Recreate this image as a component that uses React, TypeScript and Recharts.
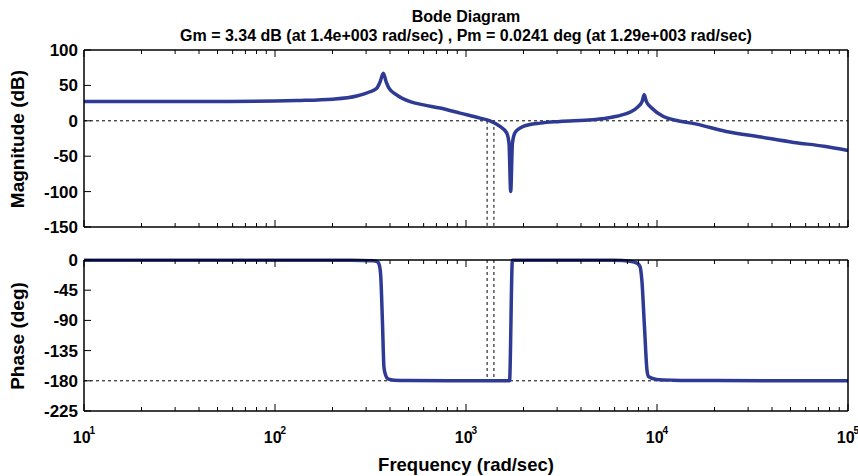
import React from 'react';
import {
  LineChart,
  Line,
  XAxis,
  YAxis,
  ReferenceLine,
} from 'recharts';

const FONT = "'Liberation Sans', Arial, Helvetica, sans-serif";
const BLUE = '#2e3a94';
const W = 858;

// frequency (rad/sec) -> magnitude (dB)
const magFreq = [
  10, 20, 58, 130, 200, 268, 314, 341, 355, 369, 382, 395, 433, 510, 600, 731,
  931, 1184, 1336, 1507, 1633, 1680, 1714, 1750, 1803, 1900, 1996, 2450, 3100,
  4600, 5500, 6500, 7230, 7970, 8350, 8570, 8800, 9380, 10800, 12700, 16100,
  23000, 35000, 52000, 75000, 100000,
];
const magDb = [
  27.3, 27.3, 27.3, 28.7, 30.6, 35, 41, 46, 55, 67, 55, 46, 36.7, 27, 22.5, 18,
  10.8, 3.8, 0, -8, -17, -32, -100, -32, -17, -11, -8, -3.3, -1,
  1.5, 4, 8, 12.2, 20, 27, 36.7, 27, 18, 6, 0.5, -4.7,
  -15, -23, -30.5, -36, -42,
];

// frequency (rad/sec) -> phase (deg)
const phaseFreq = [
  10, 100, 250, 327, 345, 352, 358, 365, 372, 380, 390, 420, 500, 1000, 1690,
  1750, 3000, 6000, 7230, 7900, 8150, 8330, 8600, 8870, 9050, 9960, 12000,
  20000, 100000,
];
const phaseDeg = [
  -0.3, -0.3, -0.5, -1, -3, -8, -25, -90, -160, -172, -177, -179, -179.5, -180, -180,
  -0.3, -0.3, -0.5, -2, -5, -10, -30, -100, -165, -174, -178, -179,
  -179.7, -180,
];

const magTicks = [-150, -100, -50, 0, 50, 100];
const phaseTicks = [-225, -180, -135, -90, -45, 0];
const decades = [10, 100, 1000, 10000, 100000];

const GM_FREQ = 1400;
const PM_FREQ = 1290;

// log ticks: decades plus 2..9 in between
const freqTicks: number[] = [];
decades.forEach((d, i) => {
  if (i === decades.length - 1) { freqTicks.push(d); return; }
  for (let k = 1; k <= 9; k++) freqTicks.push(d * k);
});

const isDecade = (v: number) => Math.abs(Math.log10(v) - Math.round(Math.log10(v))) < 1e-6;

// eslint-disable-next-line @typescript-eslint/no-explicit-any
function BottomTick({ x, y, payload, showLabel }: any) {
  const v = payload.value;
  const major = isDecade(v);
  return (
    <g>
      <line x1={x} x2={x} y1={y} y2={y - (major ? 7 : 4)} stroke="#000" strokeWidth={1} />
      {showLabel && major && (
        <text x={x} y={y + 32} textAnchor="middle" fontFamily={FONT} fontWeight="bold" fontSize={16} fill="#000">
          10<tspan dx={-1} dy={-9} fontSize={10}>{Math.round(Math.log10(v))}</tspan>
        </text>
      )}
    </g>
  );
}

// eslint-disable-next-line @typescript-eslint/no-explicit-any
function TopTick({ x, y, payload }: any) {
  const major = isDecade(payload.value);
  return <line x1={x} x2={x} y1={y} y2={y + (major ? 7 : 4)} stroke="#000" strokeWidth={1} />;
}

// eslint-disable-next-line @typescript-eslint/no-explicit-any
function LeftTick({ x, y, payload }: any) {
  return (
    <g>
      <line x1={x} x2={x + 7} y1={y} y2={y} stroke="#000" strokeWidth={1} />
      <text x={x - 6} y={y + 6} textAnchor="end" fontFamily={FONT} fontWeight="bold" fontSize={17} fill="#000">
        {payload.value}
      </text>
    </g>
  );
}

// eslint-disable-next-line @typescript-eslint/no-explicit-any
function RightTick({ x, y }: any) {
  return <line x1={x} x2={x - 7} y1={y} y2={y} stroke="#000" strokeWidth={1} />;
}

const axisLine = { stroke: '#000', strokeWidth: 1.5 };
const dash = { stroke: '#000', strokeWidth: 1, strokeDasharray: '3 3' };

function Panel({ data, height, margin, bottomHeight, domain, ticks, refY, showLabel }: any) {
  return (
    <LineChart width={W} height={height} data={data} margin={margin}>
      <XAxis
        dataKey="w" type="number" scale="log" domain={[10, 100000]}
        ticks={freqTicks} interval={0} tickSize={0} tickMargin={0}
        tick={<BottomTick showLabel={showLabel} />} tickLine={false}
        axisLine={axisLine} height={bottomHeight}
      />
      <XAxis
        xAxisId="t" orientation="top" dataKey="w" type="number" scale="log" domain={[10, 100000]}
        ticks={freqTicks} interval={0} tickSize={0} tickMargin={0}
        tick={<TopTick />} tickLine={false} axisLine={axisLine} height={10}
      />
      <YAxis
        type="number" domain={domain} ticks={ticks} interval={0} tickSize={0} tickMargin={0}
        tick={<LeftTick />} tickLine={false} axisLine={axisLine} width={84}
      />
      <YAxis
        yAxisId="r" orientation="right" type="number" domain={domain} ticks={ticks} interval={0}
        tickSize={0} tickMargin={0} tick={<RightTick />} tickLine={false} axisLine={axisLine} width={10}
      />
      <ReferenceLine y={refY} {...dash} />
      <ReferenceLine segment={[{ x: PM_FREQ, y: 0 }, { x: PM_FREQ, y: refY === 0 ? -150 : -180 }]} {...dash} />
      <ReferenceLine segment={[{ x: GM_FREQ, y: 0 }, { x: GM_FREQ, y: refY === 0 ? -150 : -180 }]} {...dash} />
      <Line
        dataKey="v" type="monotone" stroke={BLUE} strokeWidth={3.5}
        dot={false} isAnimationActive={false} strokeLinejoin="round"
      />
    </LineChart>
  );
}

export default function App() {
  const magData = magFreq.map((w, i) => ({ w, v: magDb[i] }));
  const phaseData = phaseFreq.map((w, i) => ({ w, v: phaseDeg[i] }));

  const text = { position: 'absolute' as const, fontFamily: FONT, fontWeight: 'bold' as const, color: '#000', whiteSpace: 'nowrap' as const, lineHeight: 1 };

  return (
    <div style={{ position: 'absolute', left: 0, top: 0, width: W, height: 476, background: '#fff', overflow: 'hidden' }}>
      {/* Titles */}
      <div style={{ ...text, left: 0, width: 932, top: 9, textAlign: 'center', fontSize: 16 }}>Bode Diagram</div>
      <div style={{ ...text, left: 0, width: 932, top: 28, textAlign: 'center', fontSize: 16 }}>
        Gm = 3.34 dB (at 1.4e+003 rad/sec) , Pm = 0.0241 deg (at 1.29e+003 rad/sec)
      </div>

      <div style={{ position: 'absolute', left: 0, top: 0 }}>
        <Panel
          data={magData} height={240} margin={{ top: 40, right: 0, bottom: 0, left: 0 }}
          bottomHeight={13} domain={[-150, 100]} ticks={magTicks} refY={0} showLabel={false}
        />
      </div>
      <div style={{ position: 'absolute', left: 0, top: 240 }}>
        <Panel
          data={phaseData} height={236} margin={{ top: 10, right: 0, bottom: 0, left: 0 }}
          bottomHeight={65} domain={[-225, 0]} ticks={phaseTicks} refY={-180} showLabel
        />
      </div>

      {/* Axis labels */}
      <div style={{ ...text, left: 17, top: 139, fontSize: 19, transform: 'translate(-50%, -50%) rotate(-90deg)' }}>
        Magnitude (dB)
      </div>
      <div style={{ ...text, left: 17, top: 336, fontSize: 19, transform: 'translate(-50%, -50%) rotate(-90deg)' }}>
        Phase (deg)
      </div>
      <div style={{ ...text, left: 0, width: 932, top: 456, textAlign: 'center', fontSize: 18.5 }}>
        Frequency (rad/sec)
      </div>
    </div>
  );
}
